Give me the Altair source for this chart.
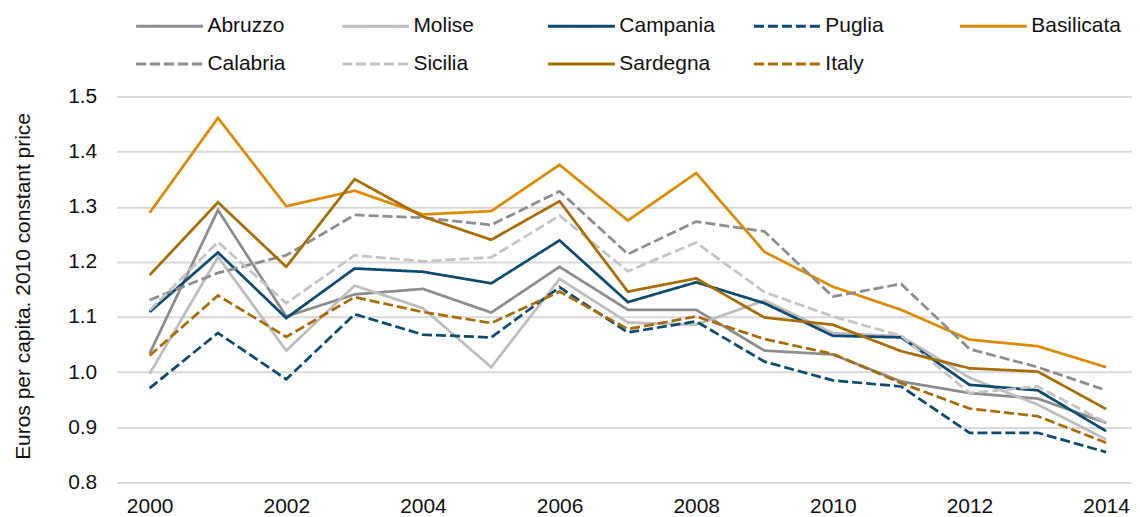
import altair as alt
import pandas as pd

years = list(range(2000, 2015))

regions = ["Abruzzo", "Molise", "Campania", "Puglia", "Basilicata",
           "Calabria", "Sicilia", "Sardegna", "Italy"]

abruzzo    = [1.034, 1.294, 1.101, 1.141, 1.151, 1.108, 1.191, 1.113, 1.113, 1.039, 1.032, 0.983, 0.962, 0.952, 0.908]
molise     = [0.997, 1.209, 1.039, 1.157, 1.116, 1.009, 1.169, 1.090, 1.086, 1.130, 1.071, 1.065, 0.990, 0.941, 0.878]
campania   = [1.109, 1.217, 1.098, 1.188, 1.182, 1.161, 1.239, 1.127, 1.163, 1.125, 1.066, 1.063, 0.977, 0.967, 0.893]
puglia     = [0.971, 1.071, 0.987, 1.105, 1.068, 1.063, 1.154, 1.072, 1.092, 1.019, 0.985, 0.974, 0.890, 0.890, 0.855]
basilicata = [1.289, 1.461, 1.301, 1.329, 1.286, 1.292, 1.376, 1.275, 1.361, 1.218, 1.155, 1.113, 1.059, 1.047, 1.009]
calabria   = [1.131, 1.180, 1.212, 1.285, 1.280, 1.267, 1.328, 1.214, 1.273, 1.255, 1.137, 1.160, 1.042, 1.009, 0.967]
sicilia    = [1.112, 1.236, 1.125, 1.212, 1.201, 1.208, 1.284, 1.183, 1.235, 1.145, 1.101, 1.066, 0.962, 0.974, 0.908]
sardegna   = [1.176, 1.308, 1.191, 1.350, 1.282, 1.240, 1.310, 1.146, 1.170, 1.099, 1.086, 1.038, 1.007, 1.001, 0.933]
italy      = [1.030, 1.139, 1.064, 1.136, 1.109, 1.089, 1.146, 1.078, 1.101, 1.060, 1.033, 0.980, 0.934, 0.920, 0.872]

series = [abruzzo, molise, campania, puglia, basilicata, calabria, sicilia, sardegna, italy]

colors = ["#8c8c8c", "#bdbdbd", "#0d4a70", "#0d4a70", "#dc8a00",
          "#8c8c8c", "#c4c4c4", "#a86c05", "#a86c05"]
solid = [1, 0]
dash = [10, 4]
dashes = [solid, solid, solid, dash, solid, dash, dash, solid, dash]

y_ticks = [0.8, 0.9, 1.0, 1.1, 1.2, 1.3, 1.4, 1.5]
x_ticks = [2000, 2002, 2004, 2006, 2008, 2010, 2012, 2014]

rows = []
for name, vals in zip(regions, series):
    for yr, v in zip(years, vals):
        rows.append({"Region": name, "Year": yr, "Value": v})
df = pd.DataFrame(rows)

FONT = "Liberation Sans"
TXT = "#111111"

legend = alt.Legend(
    title=None, orient="none", legendX=18, legendY=-81, columns=5,
    direction="horizontal",
    symbolType="stroke", symbolSize=4489, symbolStrokeWidth=3,
    labelFontSize=21, labelFont=FONT, labelColor=TXT, labelOffset=3,
    gridAlign="all", columnPadding=37.5, rowPadding=16, clipHeight=21,
    padding=0, labelLimit=300,
)

chart = alt.Chart(df).mark_line(strokeWidth=2.75).encode(
    x=alt.X("Year:Q",
            scale=alt.Scale(domain=[1999.518, 2014.379], nice=False, zero=False),
            axis=alt.Axis(values=x_ticks, format="d", title=None, grid=False,
                          domain=False, ticks=False, tickSize=0, labelPadding=13,
                          labelFontSize=21, labelFont=FONT, labelColor=TXT)),
    y=alt.Y("Value:Q",
            scale=alt.Scale(domain=[0.8, 1.5], nice=False, zero=False),
            axis=alt.Axis(values=y_ticks, format=".1f",
                          title="Euros per capita. 2010 constant price",
                          titleFontSize=21, titleFont=FONT, titleColor=TXT,
                          titleFontWeight="normal", titleX=-93, titleY=190,
                          titleBaseline="middle", titleAlign="center",
                          grid=True, gridColor="#d9d9d9", gridWidth=2,
                          domain=False, ticks=False, tickSize=0, labelPadding=20,
                          labelFontSize=21, labelFont=FONT, labelColor=TXT)),
    color=alt.Color("Region:N", scale=alt.Scale(domain=regions, range=colors), legend=legend),
    strokeDash=alt.StrokeDash("Region:N", scale=alt.Scale(domain=regions, range=dashes), legend=legend),
).properties(
    width=1018, height=387,
    padding={"left": 109, "top": 88, "right": 0, "bottom": 34},
    autosize=alt.AutoSizeParams(type="none"),
).configure_view(stroke=None)

chart.save("out.html", embed_options={"renderer": "svg", "actions": False})
